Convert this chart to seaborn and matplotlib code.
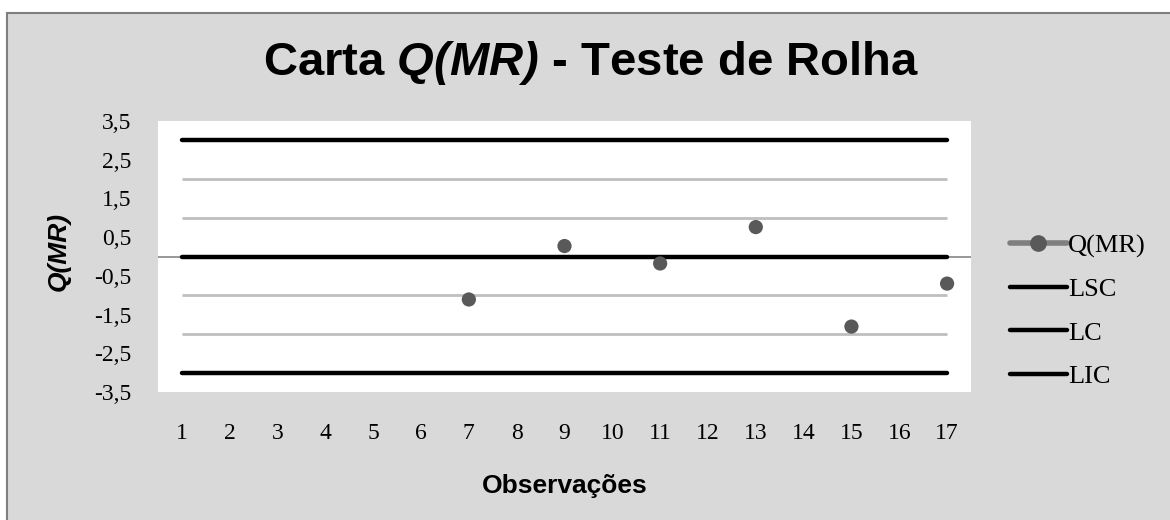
import numpy as np
import pandas as pd
import seaborn as sns
import matplotlib.pyplot as plt
from matplotlib.lines import Line2D
from matplotlib.patches import Rectangle

# data
obs = list(range(1, 18))
q_mr = [np.nan] * 6 + [-1.11, np.nan, 0.27, np.nan, -0.18, np.nan, 0.76, np.nan, -1.81, np.nan, -0.70]
lsc = 3.0
lc = 0.0
lic = -3.0
grid_levels = [-2, -1, 1, 2]
y_ticks = [-3.5, -2.5, -1.5, -0.5, 0.5, 1.5, 2.5, 3.5]
y_labels = ['-3,5', '-2,5', '-1,5', '-0,5', '0,5', '1,5', '2,5', '3,5']

df = pd.DataFrame({'obs': obs, 'Q(MR)': q_mr,
                   'LSC': [lsc] * len(obs), 'LC': [lc] * len(obs), 'LIC': [lic] * len(obs)})

sns.set_style('white')
plt.rcParams['font.family'] = ['Liberation Serif', 'DejaVu Serif']
plt.rcParams['text.color'] = 'black'
plt.rcParams['axes.labelcolor'] = 'black'
plt.rcParams['xtick.color'] = 'black'
plt.rcParams['ytick.color'] = 'black'
plt.rcParams['mathtext.fontset'] = 'custom'
plt.rcParams['mathtext.it'] = 'Liberation Sans:bold:italic'
plt.rcParams['mathtext.rm'] = 'Liberation Sans:bold:italic'

fig = plt.figure(figsize=(11.7, 5.2), dpi=100, facecolor='white')
fig.add_artist(Rectangle((7 / 1170, -0.1), 1.2, 1.1 - 13 / 520, transform=fig.transFigure,
                         facecolor='#d9d9d9', edgecolor='#7f7f7f', lw=1.5, zorder=-10))
ax = fig.add_axes([158 / 1170, 1 - 392 / 520, 813 / 1170, 271 / 520])
ax.set_facecolor('white')

# gridlines and zero axis
ax.hlines(grid_levels, obs[0], obs[-1], color='#bfbfbf', lw=2, zorder=1)
ax.axhline(0, color='#868686', lw=1.2, zorder=1)

for name in ['LSC', 'LC', 'LIC']:
    sns.lineplot(data=df, x='obs', y=name, ax=ax, color='black', lw=3.2,
                 solid_capstyle='round', zorder=2, legend=False)

sns.scatterplot(data=df, x='obs', y='Q(MR)', ax=ax, color='#595959', s=105,
                edgecolor='none', zorder=3, legend=False)

ax.set_xlim(0.5, 17.5)
ax.set_ylim(-3.5, 3.5)
ax.set_xticks(obs)
ax.set_xticklabels([str(o) for o in obs])
ax.set_yticks(y_ticks)
ax.set_yticklabels(y_labels)
ax.tick_params(axis='x', length=0, pad=22, labelsize=17)
ax.tick_params(axis='y', length=0, pad=19, labelsize=17)
for s in ax.spines.values():
    s.set_visible(False)

ax.set_xlabel('Observações', family='Liberation Sans', fontweight='bold', fontsize=19)
ax.set_ylabel('Q(MR)', family='Liberation Sans', fontweight='bold', fontstyle='italic', fontsize=19)
ax.xaxis.set_label_coords(0.5, (392 - 486) / 271)
ax.xaxis.label.set_va('center')
ax.yaxis.set_label_coords((59 - 158) / 813, 0.52)
ax.yaxis.label.set_va('center')

fig.text(591 / 1170, 1 - 63 / 520, r'Carta $\mathit{Q(MR)}$ - Teste de Rolha',
         family='Liberation Sans', fontweight='bold', fontsize=34, ha='center', va='center')

handles = [Line2D([], [], color='#7f7f7f', lw=4, marker='o', markersize=11,
                  markerfacecolor='#595959', markeredgecolor='#595959'),
           Line2D([], [], color='black', lw=3.2, solid_capstyle='round'),
           Line2D([], [], color='black', lw=3.2, solid_capstyle='round'),
           Line2D([], [], color='black', lw=3.2, solid_capstyle='round')]
ax.legend(handles, ['Q(MR)', 'LSC', 'LC', 'LIC'], loc='center left',
          bbox_to_anchor=((1010 - 158) / 813, (392 - 311) / 271), frameon=False,
          fontsize=19, handlelength=2.15, handletextpad=0.05, labelspacing=0.75,
          borderpad=0, borderaxespad=0)

fig.savefig('out.png', dpi=100, facecolor=fig.get_facecolor())
